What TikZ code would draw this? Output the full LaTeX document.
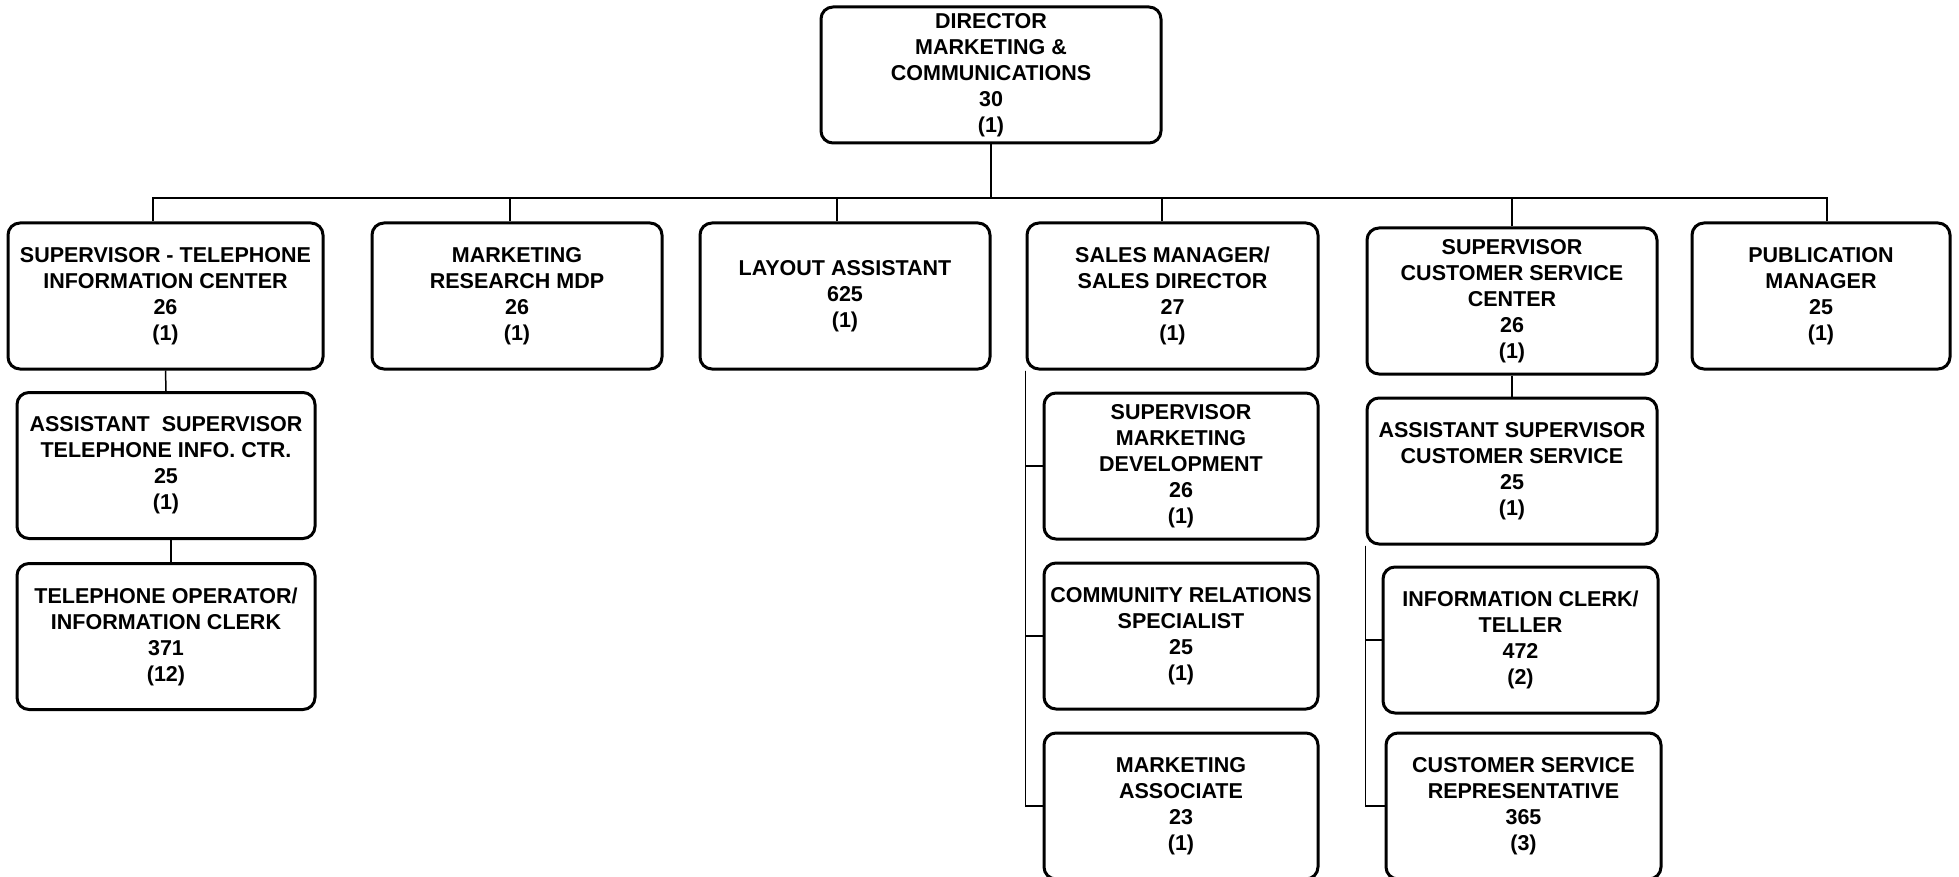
\documentclass[tikz,border=0pt]{standalone}
\usepackage{fontspec}
\setmainfont{Liberation Sans}
\usepackage{tikz}

\begin{document}
\begin{tikzpicture}[x=1pt,y=-1pt,
  post/.style={draw,line width=3pt,rounded corners=12pt,inner sep=0pt,
    minimum width=290,minimum height=146,align=center,
    font=\fontsize{21.5}{26}\selectfont\bfseries},
  link/.style={line width=1.5pt}]

  \useasboundingbox (0,0) rectangle (1959,877);

  % top
  \node[post,minimum width=340,minimum height=136] (dir) at (991,75)
    {DIRECTOR\\MARKETING \&\\COMMUNICATIONS\\30\\(1)};
  \coordinate (bus) at (991,198);

  % first row
  \node[post,minimum width=315] (telsup) at (165.5,296)
    {SUPERVISOR - TELEPHONE\\INFORMATION CENTER\\26\\(1)};
  \node[post] (mktres) at (517,296) {MARKETING\\RESEARCH MDP\\26\\(1)};
  \node[post] (layout) at (845,296) {LAYOUT ASSISTANT\\625\\(1)};
  \node[post,minimum width=291] (sales) at (1172.5,296)
    {SALES MANAGER/\\SALES DIRECTOR\\27\\(1)};
  \node[post] (cssup) at (1512,301)
    {SUPERVISOR\\CUSTOMER SERVICE\\CENTER\\26\\(1)};
  \node[post,minimum width=258] (pub) at (1821,296)
    {PUBLICATION\\MANAGER\\25\\(1)};

  % telephone column
  \node[post,minimum width=298] (asstel) at (166,465.5)
    {ASSISTANT\ \ SUPERVISOR\\TELEPHONE INFO. CTR.\\25\\(1)};
  \node[post,minimum width=298] (telop) at (166,636.5)
    {TELEPHONE OPERATOR/\\INFORMATION CLERK\\371\\(12)};

  % sales column
  \node[post,minimum width=274] (mktdev) at (1181,466)
    {SUPERVISOR\\MARKETING\\DEVELOPMENT\\26\\(1)};
  \node[post,minimum width=274] (comrel) at (1181,636)
    {COMMUNITY RELATIONS\\SPECIALIST\\25\\(1)};
  \node[post,minimum width=274] (mktassoc) at (1181,806)
    {MARKETING\\ASSOCIATE\\23\\(1)};

  % customer service column
  \node[post] (asstcs) at (1512,471)
    {ASSISTANT SUPERVISOR\\CUSTOMER SERVICE\\25\\(1)};
  \node[post,minimum width=275] (clerk) at (1520.5,640)
    {INFORMATION CLERK/\\TELLER\\472\\(2)};
  \node[post,minimum width=275] (csrep) at (1523.5,806)
    {CUSTOMER SERVICE\\REPRESENTATIVE\\365\\(3)};

  \draw[link] (dir.south) -- (bus);
  \foreach \n/\dx in {telsup/-12.5,mktres/-7,layout/-8,sales/-10.5,cssup/0,pub/6}
    \draw[link] ([xshift=\dx pt]\n.north) |- (bus);

  \draw[link] (telsup.south) -- (asstel.north);
  \draw[link] ([xshift=5pt]asstel.south) -- ([xshift=5pt]telop.north);

  \foreach \n in {mktdev,comrel,mktassoc}
    \draw[link] (sales.south west) |- (\n.west);

  \draw[link] (cssup.south) -- (asstcs.north);
  \foreach \n in {clerk,csrep}
    \draw[link] (asstcs.south west) |- (\n.west);
\end{tikzpicture}
\end{document}
